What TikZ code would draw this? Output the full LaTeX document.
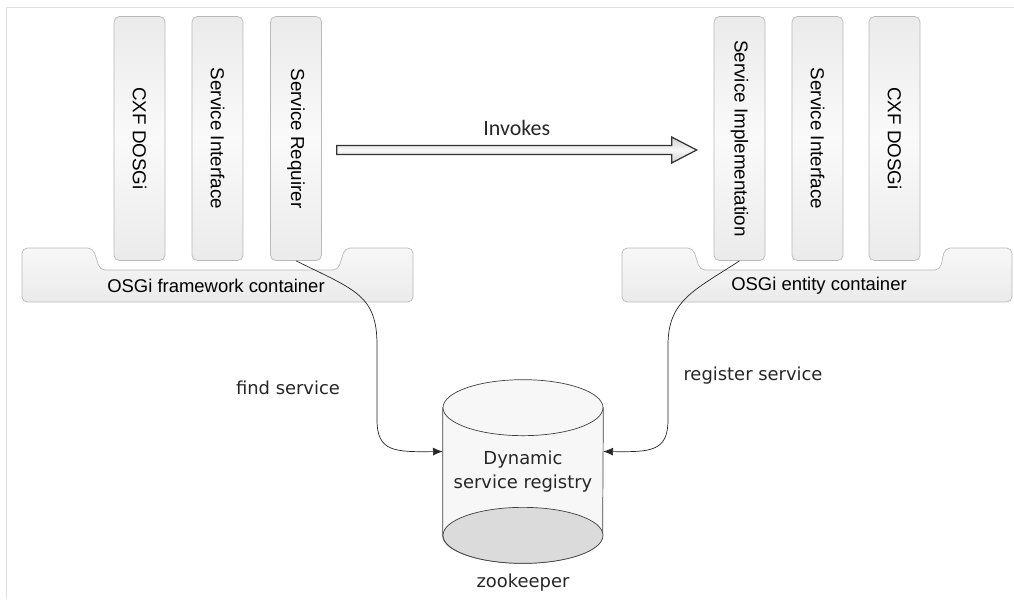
\documentclass[tikz,border=0pt]{standalone}
\usepackage{fontspec}
\setmainfont{Liberation Sans}
\newfontfamily\lblfont{DejaVu Sans}
\newfontfamily\invfont{Carlito}
\usetikzlibrary{positioning, calc, backgrounds, arrows.meta}

\begin{document}
\begin{tikzpicture}[
    x = 0.02cm, y = -0.02cm,
    auto, > = {Latex[length = 5.5pt, width = 4.5pt]}, align = center,
    bundle/.style = {rectangle, rounded corners = 3pt, draw = gray!55, top color = gray!16, bottom color = gray!16, middle color = gray!4, rotate = -90, minimum width = 4.88cm, minimum height = 1.02cm, inner sep = 0pt, font = \fontsize{10.7}{12}\selectfont, text = black},
    container/.style = {rounded corners = 3pt, draw = gray!55, top color = gray!6, bottom color = gray!16},
    tag/.style = {font = \fontsize{10.5}{12}\selectfont, text = black},
    note/.style = {font = \lblfont\fontsize{10.2}{14}\selectfont, text = black!85},
    link/.style = {->, thin, black!85},
    invoke/.style = {draw = gray!40!black, line width = 0.7pt, top color = gray!40, bottom color = gray!40, middle color = gray!5},
    ]
    \useasboundingbox (0,0) rectangle (1014,599);
    \draw [gray!25] (6,599) -- (6,7) -- (1014,7);

    % draw the bundles of both containers
    \node [bundle] (dosgiL)  at (139.5,138.5) {CXF DOSGi};
    \node [bundle] (ifaceL)  at (217.5,138.5) {Service Interface};
    \node [bundle] (req)     at (296,138.5)   {Service Requirer};
    \node [bundle] (impl)    at (739.5,138.5) {Service Implementation};
    \node [bundle] (ifaceR)  at (817.5,138.5) {Service Interface};
    \node [bundle] (dosgiR)  at (894.5,138.5) {CXF DOSGi};

    % draw the containers
    \draw [container] (22,302) -- (22,248) -- (93,248) -- (100,270) -- (338,270) -- (345,248) -- (413,248) -- (413,302) -- cycle;
    \node [tag] (fwlbl) at (216,286) {OSGi framework container};
    \draw [container] (622,302) -- (622,248) -- (693,248) -- (700,270) -- (940,270) -- (945,248) -- (1012,248) -- (1012,302) -- cycle;
    \node [tag] (entlbl) at (819,286) {OSGi entity container};

    % draw the registry
    \node [note, minimum width = 3.2cm, minimum height = 2.54cm, inner sep = 0pt] (reg) at (523,471.5) {Dynamic\\service registry};
    \node [note, below = 0.65cm of reg] (zk) {zookeeper};
    \begin{scope}[on background layer]
      \draw [black!75, fill = gray!6] (reg.north west) -- (reg.south west) arc [start angle = 180, end angle = 360, x radius = 1.6cm, y radius = 0.56cm] -- (reg.north east) -- cycle;
      \draw [black!75, fill = gray!6] (reg.north) ellipse [x radius = 1.6cm, y radius = 0.56cm];
      \draw [black!75, fill = gray!28] (reg.south) ellipse [x radius = 1.6cm, y radius = 0.56cm];
    \end{scope}

    % draw invocation
    \coordinate (invfrom) at ([shift={(15,11.5)}]req.north);
    \coordinate (invto)   at ([shift={(-17,11.5)}]impl.south);
    \draw [invoke] ($(invfrom)+(0,-4.5)$) -- ($(invto)+(-25,-4.5)$) -- ($(invto)+(-25,-13)$) -- (invto)
      -- ($(invto)+(-25,13)$) -- ($(invto)+(-25,4.5)$) -- ($(invfrom)+(0,4.5)$) -- cycle;
    \node [font = \invfont\fontsize{12.5}{14}\selectfont, text = black!85] (invlbl) at ($(invfrom)!0.5!(invto)+(0,-22)$) {Invokes};

    % draw paths
    \draw [link] (req.east) .. controls (355,290) and (377,295) .. (377,345) -- (377,420) .. controls (377,452) and (395,452) .. ([yshift=0.4cm]reg.west);
    \draw [link] (impl.east) .. controls (695,290) and (668,300) .. (668,345) -- (668,420) .. controls (668,452) and (650,452) .. ([yshift=0.4cm]reg.east);
    \node [note] (findlbl) at (288,388) {find service};
    \node [note] (reglbl)  at (753,376) {register service};
\end{tikzpicture}
\end{document}
